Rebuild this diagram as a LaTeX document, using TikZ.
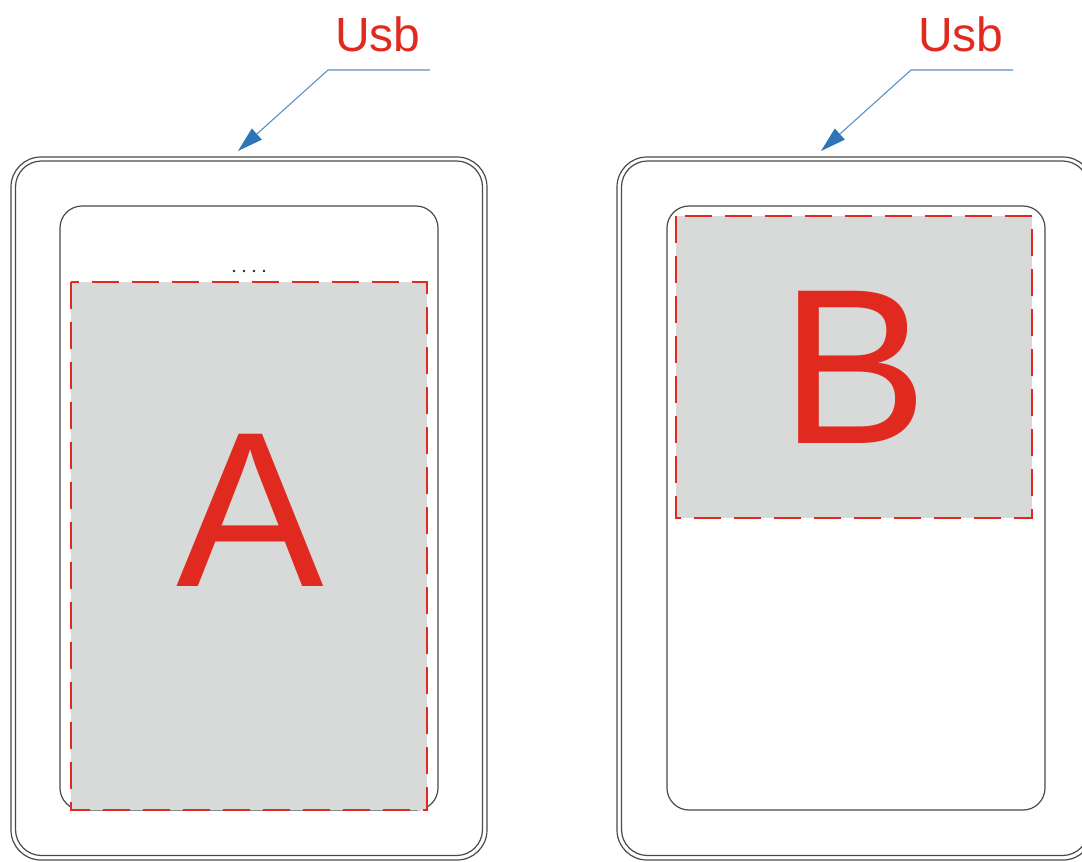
\documentclass[tikz,border=0pt]{standalone}
\usepackage{fontspec}
\setmainfont{Liberation Sans}
\usetikzlibrary{arrows.meta}
\definecolor{lbl}{HTML}{E02A1F}
\definecolor{dev}{HTML}{4A4A4A}
\definecolor{area}{HTML}{D8D9D9}
\definecolor{arw}{HTML}{2E75B6}
\definecolor{arwline}{HTML}{5B8FC4}
\begin{document}
\begin{tikzpicture}[x=0.75pt,y=-0.75pt,
  devline/.style={draw=dev,line width=0.9pt},
  zone/.style={fill=area,draw=lbl,line width=1.8pt,dash pattern=on 20pt off 10pt},
  big/.style={text=lbl,font=\fontsize{166}{166}\selectfont,inner sep=0pt},
  usb/.style={text=lbl,font=\fontsize{36}{36}\selectfont,inner sep=0pt},
  pointer/.style={draw=arwline,line width=0.8pt,-{Triangle[length=19pt,width=11pt,fill=arw,color=arw]}}]
\clip (0,0) rectangle (1082,861);
\fill[white] (0,0) rectangle (1082,861);
% left device
\draw[devline,rounded corners=22.5pt] (11,157) rectangle (487,860);
\draw[devline,rounded corners=19.5pt] (15.5,161) rectangle (482.5,855.5);
\draw[devline,rounded corners=16.5pt] (60,206) rectangle (438,810);
\path[zone] (71,282) rectangle (427,810);
\foreach \dx in {234,244,254,264} \fill[black!85] (\dx,271) circle (1.1pt);
\node[big] (A) at (250,510) {A};
% right device
\draw[devline,rounded corners=22.5pt] (617,157) rectangle (1093,860);
\draw[devline,rounded corners=19.5pt] (621.5,161) rectangle (1088.5,855.5);
\draw[devline,rounded corners=16.5pt] (667,206) rectangle (1045,810);
\path[zone] (676,216) rectangle (1032,518);
\node[big] (B) at (854,367) {B};
% labels and pointers
\node[usb] (U1) at (378,34) {Usb};
\node[usb] (U2) at (961,34) {Usb};
\coordinate (s1) at (430,70);
\coordinate (k1) at (328,70);
\coordinate (t1) at (238,151);
\coordinate (s2) at (1013,70);
\coordinate (k2) at (911,70);
\coordinate (t2) at (821,151);
\draw[pointer] (s1) -- (k1) -- (t1);
\draw[pointer] (s2) -- (k2) -- (t2);
\end{tikzpicture}
\end{document}
